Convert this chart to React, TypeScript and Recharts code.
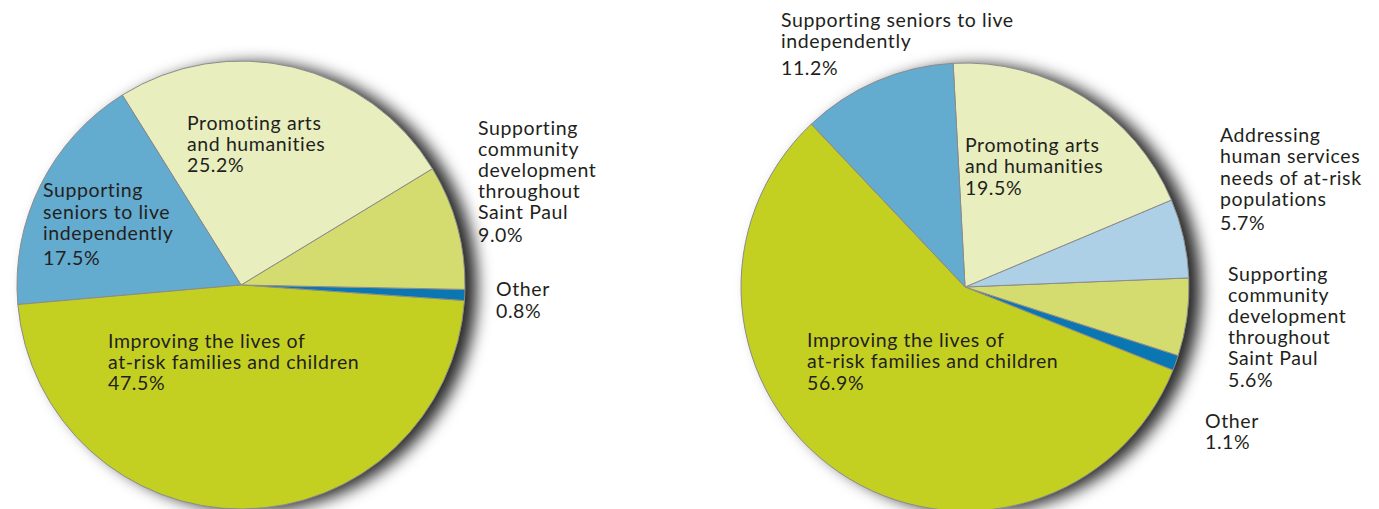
import { PieChart, Pie, Cell } from 'recharts';

// left pie (starts at "Other", runs counter-clockwise)
const leftNames = [
  'Other',
  'Supporting community development throughout Saint Paul',
  'Promoting arts and humanities',
  'Supporting seniors to live independently',
  'Improving the lives of at-risk families and children',
];
const leftValues = [0.8, 9.0, 25.2, 17.5, 47.5];
const leftLabelLines = [
  ['Other'],
  ['Supporting', 'community', 'development', 'throughout', 'Saint Paul'],
  ['Promoting arts', 'and humanities'],
  ['Supporting', 'seniors to live', 'independently'],
  ['Improving the lives of', 'at-risk families and children'],
];

// right pie
const rightNames = [
  'Other',
  'Supporting community development throughout Saint Paul',
  'Addressing human services needs of at-risk populations',
  'Promoting arts and humanities',
  'Supporting seniors to live independently',
  'Improving the lives of at-risk families and children',
];
const rightValues = [1.1, 5.6, 5.7, 19.5, 11.2, 56.9];
const rightLabelLines = [
  ['Other'],
  ['Supporting', 'community', 'development', 'throughout', 'Saint Paul'],
  ['Addressing', 'human services', 'needs of at-risk', 'populations'],
  ['Promoting arts', 'and humanities'],
  ['Supporting seniors to live', 'independently'],
  ['Improving the lives of', 'at-risk families and children'],
];

const COLORS: Record<string, string> = {
  'Other': '#0b77b2',
  'Supporting community development throughout Saint Paul': '#d4dc6f',
  'Addressing human services needs of at-risk populations': '#aed0e7',
  'Promoting arts and humanities': '#e8eebe',
  'Supporting seniors to live independently': '#63abcf',
  'Improving the lives of at-risk families and children': '#c3d022',
};

type LabelPos = { x: number; y: number; lh: number; pg: number };

// label anchors (first baseline), line height and gap before the percentage
const LEFT_LABEL_POS: LabelPos[] = [
  { x: 496, y: 296, lh: 21, pg: 22 },
  { x: 478, y: 135, lh: 21, pg: 23 },
  { x: 187, y: 130, lh: 20.5, pg: 21 },
  { x: 43, y: 197, lh: 21.5, pg: 25 },
  { x: 108, y: 348, lh: 21, pg: 21 },
];
const RIGHT_LABEL_POS: LabelPos[] = [
  { x: 1205, y: 428, lh: 21, pg: 21 },
  { x: 1228, y: 281, lh: 21, pg: 21.5 },
  { x: 1220, y: 142, lh: 21.3, pg: 24 },
  { x: 965, y: 152, lh: 21, pg: 22 },
  { x: 781, y: 27, lh: 21, pg: 27 },
  { x: 807, y: 347, lh: 21, pg: 22 },
];

const W = 1379;
const H = 509;
const R = 224;
const LEFT = { cx: 236, cy: 280, start: -4 };
const RIGHT = { cx: 960, cy: 282, start: -21.8 };
const FONT = 'Lato, "Open Sans", sans-serif';

const toRows = (names: string[], values: number[]) =>
  names.map((name, i) => ({ name, value: values[i] }));

const leftData = toRows(leftNames, leftValues);
const rightData = toRows(rightNames, rightValues);
const discData = [{ name: 'disc', value: 1 }];

const makeLabel = (lines: string[][], pos: LabelPos[]) => (props: any) => {
  const i = props.index;
  const p = pos[i];
  const rows = lines[i];
  const pct = `${Number(props.value).toFixed(1)}%`;
  return (
    <text
      key={`lbl-${i}`}
      x={p.x}
      y={p.y}
      fill="#231f20"
      fontSize={19.5}
      letterSpacing={0.6}
      fontFamily={FONT}
    >
      {rows.map((r, k) => (
        <tspan key={k} x={p.x} y={p.y + k * p.lh}>
          {r}
        </tspan>
      ))}
      <tspan x={p.x} y={p.y + (rows.length - 1) * p.lh + p.pg}>{pct}</tspan>
    </text>
  );
};

const App = () => {
  return (
    <div style={{ position: 'absolute', left: 0, top: 0, width: W, height: H, background: '#fff' }}>
      {/* soft shadow behind both pies */}
      <div style={{ position: 'absolute', left: 0, top: 0, filter: 'blur(8px)' }}>
        <PieChart width={W} height={H}>
          <Pie
            data={discData}
            dataKey="value"
            cx={LEFT.cx + 12}
            cy={LEFT.cy + 2}
            outerRadius={R}
            fill="#262626"
            stroke="none"
            isAnimationActive={false}
          />
          <Pie
            data={discData}
            dataKey="value"
            cx={RIGHT.cx + 12}
            cy={RIGHT.cy + 2}
            outerRadius={R}
            fill="#262626"
            stroke="none"
            isAnimationActive={false}
          />
        </PieChart>
      </div>
      <div style={{ position: 'absolute', left: 0, top: 0 }}>
        <PieChart width={W} height={H}>
          <Pie
            data={leftData}
            dataKey="value"
            nameKey="name"
            cx={LEFT.cx}
            cy={LEFT.cy}
            outerRadius={R}
            startAngle={LEFT.start}
            endAngle={LEFT.start + 360}
            stroke="#8c8c8c"
            strokeWidth={1}
            label={makeLabel(leftLabelLines, LEFT_LABEL_POS)}
            labelLine={false}
            isAnimationActive={false}
          >
            {leftData.map((d) => (
              <Cell key={d.name} fill={COLORS[d.name]} />
            ))}
          </Pie>
          <Pie
            data={rightData}
            dataKey="value"
            nameKey="name"
            cx={RIGHT.cx}
            cy={RIGHT.cy}
            outerRadius={R}
            startAngle={RIGHT.start}
            endAngle={RIGHT.start + 360}
            stroke="#8c8c8c"
            strokeWidth={1}
            label={makeLabel(rightLabelLines, RIGHT_LABEL_POS)}
            labelLine={false}
            isAnimationActive={false}
          >
            {rightData.map((d) => (
              <Cell key={d.name} fill={COLORS[d.name]} />
            ))}
          </Pie>
        </PieChart>
      </div>
    </div>
  );
};

export default App;
